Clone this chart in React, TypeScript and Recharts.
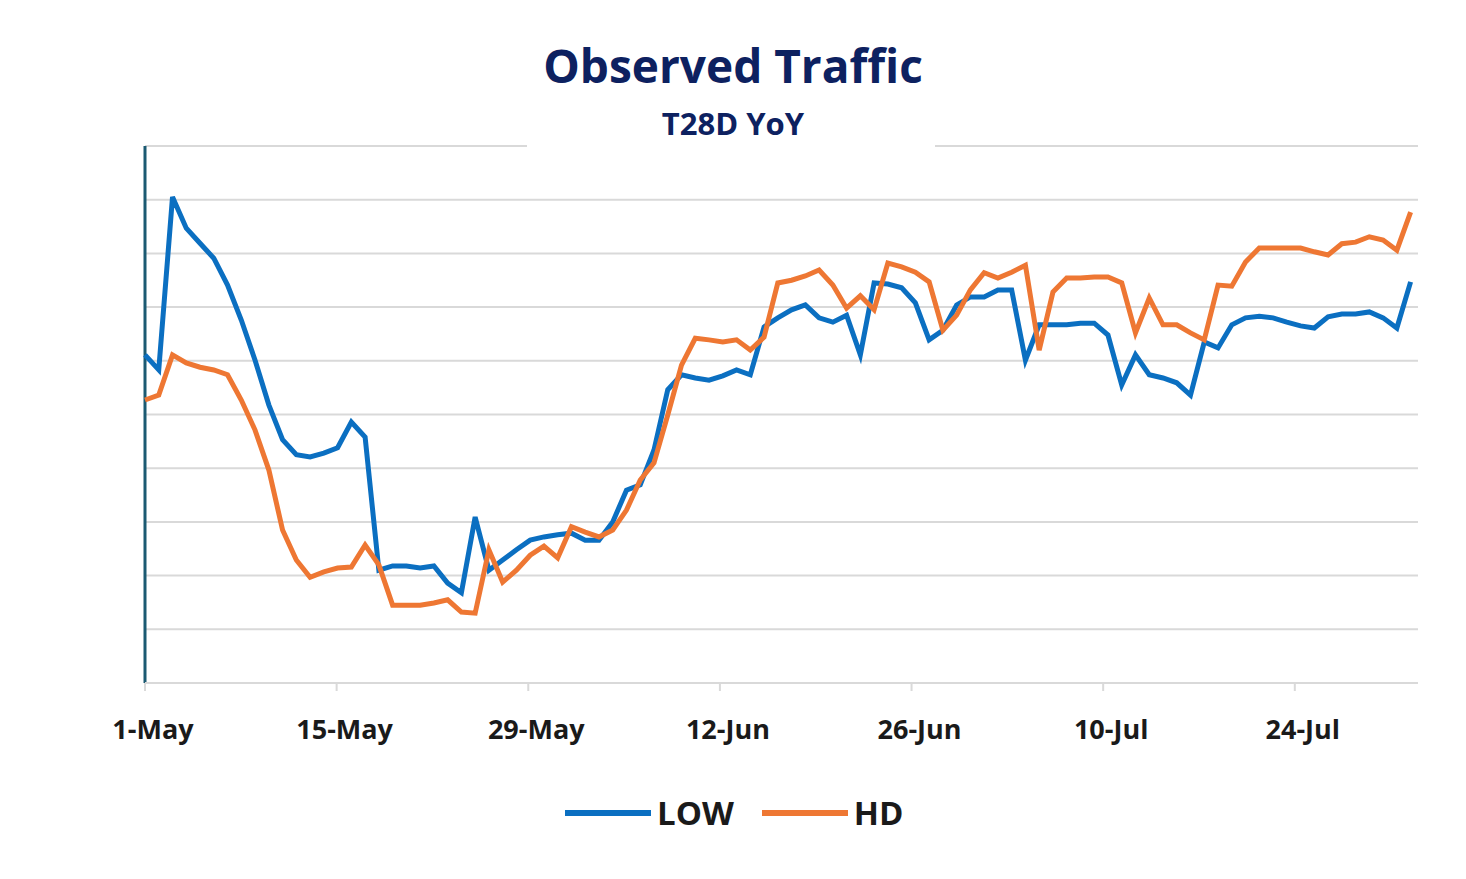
import { LineChart, Line, XAxis, YAxis, CartesianGrid, ReferenceLine } from "recharts"

const tickDays = [0, 14, 28, 42, 56, 70, 84]
const tickLabels = ["1-May", "15-May", "29-May", "12-Jun", "26-Jun", "10-Jul", "24-Jul"]

const low = [
  61.1, 58.3, 90.5, 84.7, 81.9, 79.1, 74.1, 67.6, 60.1, 51.8, 45.3, 42.5, 42.1, 42.8, 43.8, 48.6,
  45.8, 21.0, 21.8, 21.8, 21.4, 21.8, 18.6, 16.8, 30.9, 21.0, 22.9, 24.8, 26.6, 27.2, 27.6, 27.9,
  26.6, 26.6, 30.0, 35.9, 36.9, 43.4, 54.6, 57.4, 56.8, 56.4, 57.2, 58.3, 57.4, 66.3, 68.0, 69.5,
  70.4, 68.0, 67.2, 68.5, 61.1, 74.5, 74.3, 73.6, 70.8, 63.9, 65.7, 70.4, 71.9, 71.9, 73.2, 73.2,
  60.1, 66.7, 66.7, 66.7, 67.0, 67.0, 64.8, 55.5, 61.1, 57.4, 56.8, 55.9, 53.6, 63.5, 62.4, 66.7,
  68.0, 68.3, 68.0, 67.2, 66.5, 66.1, 68.2, 68.7, 68.7, 69.1, 68.0, 66.1, 74.7,
]

const hd = [
  52.7, 53.6, 61.1, 59.6, 58.8, 58.3, 57.4, 52.7, 47.1, 39.7, 28.5, 22.9, 19.7, 20.7, 21.4, 21.6,
  25.7, 22.0, 14.5, 14.5, 14.5, 14.9, 15.5, 13.2, 13.0, 24.8, 18.8, 21.0, 23.8, 25.5, 23.3, 29.1,
  28.1, 27.2, 28.5, 32.2, 37.8, 41.0, 49.9, 59.2, 64.2, 63.9, 63.5, 63.9, 62.0, 64.4, 74.5, 75.0,
  75.8, 76.9, 74.1, 69.8, 72.1, 69.5, 78.2, 77.5, 76.5, 74.7, 65.7, 68.5, 73.2, 76.4, 75.4, 76.5,
  77.8, 62.0, 72.8, 75.4, 75.4, 75.6, 75.6, 74.5, 65.2, 71.7, 66.7, 66.7, 65.2, 63.9, 74.1, 73.9,
  78.4, 81.0, 81.0, 81.0, 81.0, 80.3, 79.7, 81.8, 82.1, 83.1, 82.5, 80.6, 87.7,
]

const data = low.map((v, i) => ({ day: i * 1.005, LOW: v, HD: hd[i] }))

const font = "'Open Sans', 'Liberation Sans', sans-serif"

export default function App() {
  return (
    <div style={{ position: "absolute", left: 0, top: 0, width: 1466, height: 879, background: "#fff", fontFamily: font }}>
      <LineChart width={1466} height={879} data={data} margin={{ top: 146, right: 48, bottom: 136, left: 145 }}>
        <CartesianGrid vertical={false} stroke="#d9d9d9" strokeWidth={2} />
        <YAxis hide domain={[0, 100]} ticks={[0, 10, 20, 30, 40, 50, 60, 70, 80, 90, 100]} />
        <XAxis
          dataKey="day"
          type="number"
          domain={[0, 93]}
          ticks={tickDays}
          tickFormatter={(d: number) => tickLabels[tickDays.indexOf(d)]}
          axisLine={{ stroke: "#d9d9d9", strokeWidth: 2 }}
          tickLine={{ stroke: "#d9d9d9", strokeWidth: 2 }}
          tickSize={8}
          tickMargin={29}
          height={60}
          tick={{ fill: "#1a1a1a", fontSize: 27, fontWeight: 700, fontFamily: font, dx: 8 }}
        />
        <ReferenceLine x={0} stroke="#1b5a72" strokeWidth={3} ifOverflow="extendDomain" />
        <Line type="linear" dataKey="LOW" stroke="#0b6fc1" strokeWidth={5} dot={false} isAnimationActive={false} />
        <Line type="linear" dataKey="HD" stroke="#ee7733" strokeWidth={5} dot={false} isAnimationActive={false} />
      </LineChart>
      <div style={{ position: "absolute", left: 527, top: 138, width: 408, height: 14, background: "#fff" }} />
      <div style={{ position: "absolute", left: 0, width: 1466, top: 34, textAlign: "center", color: "#0d2160", fontSize: 46, fontWeight: 700 }}>
        Observed Traffic
      </div>
      <div style={{ position: "absolute", left: 0, width: 1466, top: 102, textAlign: "center", color: "#0d2160", fontSize: 31, fontWeight: 700 }}>
        T28D YoY
      </div>
      <div style={{ position: "absolute", top: 790, left: 565, display: "flex", alignItems: "center", fontSize: 33, fontWeight: 700, color: "#1a1a1a" }}>
        <span style={{ width: 86, height: 6, background: "#0b6fc1", marginRight: 6 }} />
        <span style={{ marginRight: 28 }}>LOW</span>
        <span style={{ width: 86, height: 6, background: "#ee7733", marginRight: 6 }} />
        <span>HD</span>
      </div>
    </div>
  )
}
